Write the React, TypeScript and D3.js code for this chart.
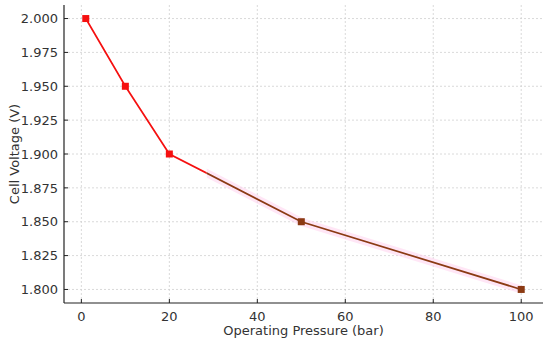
import React from "react";
import * as d3 from "d3";

const pressures = [1, 10, 20, 50, 100];
const voltages = [2.0, 1.95, 1.9, 1.85, 1.8];
const brownFrom = 28.5; // pressure where the line colour changes
const xTicks = [0, 20, 40, 60, 80, 100];
const yTicks = [1.8, 1.825, 1.85, 1.875, 1.9, 1.925, 1.95, 1.975, 2.0];

const W = 550, H = 342;
const L = 64, R = 543, T = 5, B = 303;

export default function App() {
  const x = d3.scaleLinear().domain([-3.95, 104.95]).range([L, R]);
  const y = d3.scaleLinear().domain([1.79, 2.01]).range([B, T]);
  const pts = pressures.map((p, i) => [p, voltages[i]] as [number, number]);
  const line = d3.line<[number, number]>().x(d => x(d[0])).y(d => y(d[1]));
  const font = "'DejaVu Sans', sans-serif";
  const fs = 13;
  return (
    <svg width={W} height={H} style={{ position: "absolute", left: 0, top: 0 }}>
      <defs>
        <clipPath id="redClip"><rect x={0} y={0} width={x(brownFrom)} height={H} /></clipPath>
        <clipPath id="brownClip"><rect x={x(brownFrom)} y={0} width={W} height={H} /></clipPath>
      </defs>
      <rect width={W} height={H} fill="#fff" />
      {xTicks.map(t => (
        <line key={"gx" + t} x1={x(t)} x2={x(t)} y1={T} y2={B} stroke="#d0d0d0" strokeWidth={0.8} strokeDasharray="2,2" />
      ))}
      {yTicks.map(t => (
        <line key={"gy" + t} x1={L} x2={R} y1={y(t)} y2={y(t)} stroke="#d0d0d0" strokeWidth={0.8} strokeDasharray="2,2" />
      ))}
      <path d={line(pts) || ""} fill="none" stroke="#ffd6f0" strokeOpacity={0.6} strokeWidth={8} clipPath="url(#brownClip)" />
      <path d={line(pts) || ""} fill="none" stroke="#f51010" strokeWidth={1.7} clipPath="url(#redClip)" />
      <path d={line(pts) || ""} fill="none" stroke="#8b3a13" strokeWidth={1.7} clipPath="url(#brownClip)" />
      {pts.map((d, i) => (
        <rect key={"m" + i} x={x(d[0]) - 3.5} y={y(d[1]) - 3.5} width={7} height={7}
          fill={d[0] < brownFrom ? "#f51010" : "#8b3a13"} />
      ))}
      <line x1={L} x2={L} y1={T} y2={B} stroke="#222" strokeWidth={1.2} />
      <line x1={L} x2={R} y1={B} y2={B} stroke="#222" strokeWidth={1.2} />
      {xTicks.map(t => (
        <g key={"xt" + t}>
          <line x1={x(t)} x2={x(t)} y1={B} y2={B - 4} stroke="#222" />
          <text x={x(t)} y={B + 18} textAnchor="middle" fontFamily={font} fontSize={fs} fill="#333">{t}</text>
        </g>
      ))}
      {yTicks.map(t => (
        <g key={"yt" + t}>
          <line x1={L} x2={L + 4} y1={y(t)} y2={y(t)} stroke="#222" />
          <text x={L - 6} y={y(t) + 4.7} textAnchor="end" fontFamily={font} fontSize={fs} fill="#333">{t.toFixed(3)}</text>
        </g>
      ))}
      <text x={(L + R) / 2} y={335} textAnchor="middle" fontFamily={font} fontSize={fs} fill="#333">Operating Pressure (bar)</text>
      <text transform={`translate(19,${(T + B) / 2}) rotate(-90)`} textAnchor="middle" fontFamily={font} fontSize={fs} fill="#333">Cell Voltage (V)</text>
    </svg>
  );
}
